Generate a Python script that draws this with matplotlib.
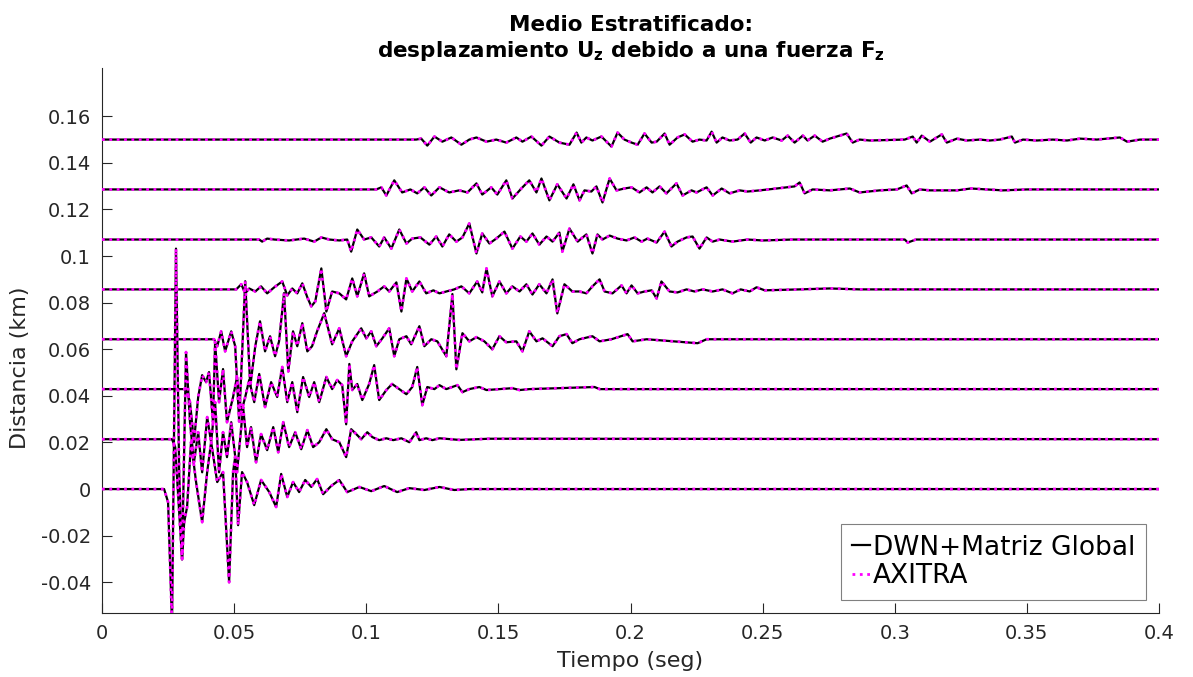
import matplotlib
matplotlib.use("Agg")
import matplotlib.pyplot as plt
import numpy as np

# Receiver distances (km): each trace is drawn around its own distance
distancia_km = [0.0, 0.0214, 0.0429, 0.0643, 0.0857, 0.1071, 0.1286, 0.15]

# Time samples (ms) and scaled vertical displacement (x1e-3 axis units)
t0_ms = [0, 23.5, 25.0, 26.5, 28.0, 29.2, 30.3, 31.1, 32.2, 33.7, 35.6, 37.9, 39.8, 41.3, 43.6,
         45.8, 48.1, 49.6, 50.4, 51.5, 53.0, 54.9, 57.6, 60.2, 63.3, 65.9, 67.8, 70.1, 72.3, 74.6,
         76.9, 79.2, 81.4, 83.7, 86.7, 89.8, 92.8, 97.4, 101.9, 106.8, 111.7, 116.3, 122.0, 127.7,
         133.3, 139.0, 400]
u0 = [0, 0, -5.6, -58.0, 103.2, 7.3, -30.1, -14.2, -7.7, 20.2, 3.0, -14.2, 7.3, 20.2, 3.0,
      7.3, -40.0, 7.3, 13.8, -15.5, 7.3, 3.0, -6.9, 3.9, -1.3, -7.7, 6.5, -3.4, 3.0, -1.3,
      3.9, 0.9, 4.3, -2.2, 1.3, 3.9, -1.3, 0.9, -0.9, 1.3, -1.3, 0.4, -0.4, 0.9,
      -0.4, 0, 0]

t1_ms = [0, 26.5, 27.7, 30.3, 31.8, 33.3, 34.8, 36.4, 37.9, 39.8, 41.3, 42.8, 44.3, 45.8, 47.3,
         48.9, 51.1, 53.4, 54.9, 56.4, 58.3, 60.2, 62.5, 64.8, 66.7, 68.6, 70.8, 73.1, 75.4, 77.7,
         79.9, 82.2, 84.9, 87.1, 89.8, 92.4, 94.3, 96.2, 98.1, 100.4, 102.3, 104.9, 107.6, 110.2,
         113.3, 116.3, 118.9, 120.1, 122.7, 125.0, 127.7, 135.2, 146.6, 400]
u1 = [0, 0, -3.4, -51.6, 37.4, 7.3, -9.9, 3.0, -14.2, 9.5, -1.3, 15.9, -14.2, 3.0, -7.7,
      7.3, -14.2, 13.8, -3.4, 5.2, -9.9, 2.2, -4.7, 5.2, -5.6, 7.3, -3.4, 3.0, -4.3, 3.9,
      -3.4, -1.3, 4.3, 0, -1.3, -7.7, 4.3, 2.2, 0, 3.0, 0.9, -0.4, 0.4, -0.4,
      0.4, -1.3, 3.0, -0.4, 0.4, -0.4, 0.4, -0.3, 0.2, 0]

t2_ms = [0, 31.8, 33.3, 34.8, 36.4, 37.9, 39.4, 40.5, 42.0, 42.8, 44.3, 45.8, 47.3, 49.6, 51.1,
         52.7, 54.2, 55.7, 57.6, 59.5, 61.7, 64.0, 66.3, 68.2, 70.1, 72.0, 73.9, 76.1, 78.4, 80.3,
         82.2, 84.9, 87.1, 89.0, 90.9, 92.4, 93.6, 94.7, 96.6, 98.5, 101.1, 103.0, 104.9, 107.6,
         109.8, 112.5, 115.2, 117.4, 119.3, 121.2, 123.1, 125.8, 127.7, 130.3, 134.5, 136.4, 139.0,
         142.8, 145.5, 150.4, 155.3, 158.0, 161.7, 186.4, 188.3, 400]
u2 = [0, 0, -5.6, -22.8, -3.4, 6.0, 3.0, 7.3, -14.2, 20.2, -5.6, 8.6, -14.2, -3.4, 5.2,
      -9.9, -3.4, 3.9, -5.6, 6.5, -7.7, 3.0, -3.4, 9.5, -5.6, 3.0, -9.9, 5.2, -3.4, 3.0,
      -5.6, 5.2, 0, 3.9, 1.7, -15.1, 10.8, -0.4, 2.2, -4.7, 2.2, 10.3, -4.7, -0.4,
      2.2, 0, -2.2, 0.9, 9.5, -6.9, 0.9, 0, 1.7, 0, 1.7, -1.3, 0,
      0.9, -0.4, 0, 0.4, -0.4, 0, 0.9, 0, 0]

t3_ms = [0, 42.4, 43.6, 45.1, 46.6, 48.9, 50.4, 51.9, 54.2, 56.1, 58.0, 59.8, 61.7, 63.6, 65.5,
         67.0, 68.9, 70.5, 72.3, 73.9, 75.8, 77.7, 79.5, 81.4, 84.1, 87.1, 89.8, 92.4, 94.7, 98.1,
         100.0, 101.9, 103.8, 106.1, 108.7, 110.6, 112.5, 115.2, 117.0, 120.1, 122.0, 124.6, 126.9,
         130.3, 132.6, 134.1, 136.4, 139.0, 141.7, 144.7, 147.7, 150.4, 153.0, 156.8, 159.1, 161.7,
         164.4, 166.7, 170.5, 173.1, 175.8, 178.0, 180.7, 185.6, 188.3, 192.8, 198.9, 200.8, 206.1,
         225.4, 228.8, 400]
u3 = [0, 0, -3.0, 3.4, -5.2, 3.4, -3.0, -35.3, 24.9, -20.2, -3.0, 7.7, -5.2, 1.3, -7.3,
      -0.9, 19.8, -13.8, 3.4, -3.0, 6.9, -5.2, -3.0, 3.4, 11.2, -2.2, 4.7, -7.3, -0.9, 4.7,
      0.4, 3.4, -3.0, 0.4, 4.7, -7.3, 0, 1.3, -2.2, 5.6, -3.0, 0, -0.9,
      -7.3, 19.4, -12.9, 2.6, -0.9, 0.9, -0.9, -4.3, 1.3, -1.3, -0.9, -5.2, 3.4,
      -0.9, 0.4, -3.0, 1.3, 2.2, -1.7, 0, 1.3, -0.9, 0, 2.2, -0.9, 0,
      -1.7, 0, 0]

t4_ms = [0, 50.8, 52.7, 54.2, 55.7, 58.0, 60.2, 62.5, 65.2, 68.2, 70.1, 72.0, 73.9, 75.8, 77.7,
         79.2, 80.7, 83.0, 84.9, 87.1, 89.8, 92.4, 94.7, 96.6, 99.2, 101.1, 104.2, 106.8, 108.7,
         111.4, 113.3, 115.2, 117.4, 120.1, 122.7, 125.4, 127.7, 130.3, 133.3, 136.0, 139.0, 142.0,
         143.9, 145.5, 147.7, 150.4, 153.0, 155.3, 158.0, 160.6, 162.9, 165.5, 168.2, 170.5, 172.3,
         175.0, 178.0, 180.7, 183.3, 185.6, 188.3, 190.2, 193.2, 196.6, 198.5, 200.4, 202.7, 205.3,
         208.0, 209.9, 211.7, 214.8, 217.8, 221.2, 224.2, 227.3, 231.1, 234.8, 238.6, 241.7, 245.1,
         247.7, 250.8, 264.0, 275.4, 286.7, 400]
u4 = [0, 0, 2.2, -1.7, 0.4, -0.9, 1.3, -1.7, 0.9, 3.4, -2.6, 0.4, -1.7, 2.6, -3.4,
      -7.3, -5.2, 9.0, -9.5, -0.9, -1.7, -4.3, 4.7, -3.0, 6.9, -3.0, -0.9, 1.3, -0.9,
      3.0, -9.5, 4.7, -0.9, 3.4, -1.7, -0.4, -1.7, -0.9, 0, 1.3, -1.7, 3.4,
      -1.3, 9.0, -3.0, 3.4, -1.7, 1.3, -0.9, 2.2, -2.2, 2.2, -1.7, 4.3, -10.3,
      2.2, -0.9, -0.9, -1.7, 1.3, 4.3, -0.9, -1.7, 1.7, -1.7, 1.7, -1.7, -0.9,
      -0.4, -3.9, 3.4, -0.9, -1.3, 0, -0.9, 0, -0.9, 0, -1.7, 0, -0.9,
      0.9, -0.4, 0, 0.4, 0, 0]

t5_ms = [0, 59.5, 60.6, 62.5, 65.2, 70.8, 76.5, 80.3, 83.0, 86.0, 89.8, 92.8, 94.3, 96.6, 99.2,
         101.9, 104.9, 106.8, 109.5, 112.5, 115.2, 117.4, 120.5, 123.9, 126.5, 128.8, 131.4, 134.1,
         136.4, 139.0, 141.7, 143.9, 146.6, 149.2, 152.3, 155.3, 158.3, 160.6, 162.9, 165.5, 168.2,
         170.5, 173.1, 174.2, 176.9, 180.0, 183.3, 185.6, 187.5, 189.4, 192.1, 195.1, 198.5, 201.5,
         204.2, 206.4, 209.9, 212.9, 215.5, 217.8, 221.2, 223.5, 226.1, 228.8, 231.1, 233.7, 238.6,
         244.3, 250.0, 261.4, 303.8, 304.9, 308.0, 400]
u5 = [0, 0, -0.9, 0.4, 0, -0.4, 0.4, -0.9, 0.9, 0, -0.4, 0, -5.2, 4.3, 0,
      0.9, -3.0, 0.9, -3.9, 4.3, -1.7, 0.4, 0.9, -2.2, 1.3, -3.0, 2.2, -0.9,
      0.9, 6.9, -6.0, 2.6, -1.7, 0.4, 3.4, -3.9, 1.3, -0.9, 2.6, -2.2, 1.3,
      -0.9, 3.0, -5.2, 4.7, -0.9, 2.2, -6.0, 2.2, 0, 1.7, 0.4, -0.4, 0.9,
      -0.9, 0.4, -1.3, 3.4, -3.0, -0.9, 0.9, 1.3, -3.9, 0.9, -0.9, 0, -0.9,
      0, -0.4, 0, 0, -1.3, 0, 0]

t6_ms = [0, 103.8, 105.7, 107.6, 110.6, 113.6, 116.7, 119.3, 122.0, 124.6, 127.7, 131.4, 135.2,
         138.3, 141.7, 143.9, 147.3, 149.6, 153.0, 155.3, 158.7, 161.7, 164.4, 166.3, 169.3, 172.3,
         175.8, 178.4, 180.7, 182.6, 185.2, 187.1, 189.4, 192.1, 194.7, 197.7, 200.4, 203.4, 206.1,
         208.3, 211.0, 213.6, 217.4, 219.7, 223.1, 225.0, 228.8, 231.1, 234.5, 237.5, 241.3, 244.3,
         248.9, 255.3, 262.1, 264.0, 265.9, 268.9, 275.4, 283.0, 286.7, 294.3, 300.8, 304.5, 306.4,
         309.5, 313.3, 323.5, 328.8, 340.9, 350.0, 400]
u6 = [0, 0, 0.9, -2.6, 3.9, -1.3, 0, -1.7, 0.9, -2.6, 0.9, -1.3, -0.4,
      -1.3, 2.6, -2.2, 0.9, -2.2, 3.9, -3.9, 0.4, 3.9, -1.3, 4.7, -4.7, 2.2,
      -3.9, 2.2, -4.7, -0.4, -0.9, 1.3, -5.6, 4.7, -0.4, 0.4, 0.9, -1.3, 0.9,
      -1.3, 1.3, -1.7, 2.6, -2.6, -0.4, -1.3, 0.9, -2.6, 0.4, -1.7, -0.4, -0.9,
      -0.4, 0.4, 1.3, 3.0, -1.7, 0, -0.4, 0.4, -1.3, -0.4, 0, 1.7, -1.7,
      0, -0.4, -0.4, 0.4, -0.4, 0, 0]

t7_ms = [0, 118.9, 120.8, 123.1, 125.8, 128.8, 132.2, 136.0, 139.0, 141.7, 145.5, 149.2, 153.0,
         156.8, 159.1, 162.5, 166.3, 169.3, 173.1, 176.9, 179.6, 181.4, 183.3, 185.6, 189.0, 192.8,
         195.1, 197.7, 200.4, 202.7, 205.3, 208.0, 209.9, 212.9, 214.8, 217.8, 220.5, 223.5, 226.1,
         228.8, 230.7, 232.6, 234.8, 237.5, 240.5, 243.2, 245.5, 247.7, 250.8, 253.8, 257.2, 259.5,
         262.1, 265.2, 267.0, 269.7, 272.7, 275.4, 281.8, 284.1, 286.7, 290.5, 303.8, 306.8, 308.3,
         310.2, 313.3, 317.8, 319.7, 323.5, 327.3, 332.2, 336.0, 339.8, 344.3, 345.5, 348.5, 353.8,
         359.8, 365.2, 370.1, 376.5, 385.2, 387.9, 392.8, 400]
u7 = [0, 0, 0.4, -2.6, 1.3, -0.9, 0.9, -2.2, 0, 0.9, -0.9, 0, -1.3,
      0.9, -0.9, 1.3, -2.6, 1.3, -1.3, -2.2, 3.0, -1.3, 0.9, -0.4, 1.3, -3.0,
      3.0, 0, -1.3, -2.2, 2.6, -1.3, -0.9, 2.6, -2.2, 0.9, 2.2, -0.9, 0,
      -0.4, 3.4, -1.3, 0.9, -0.4, 0, 2.6, -1.3, 0.9, -0.4, 0.9, -0.4, 1.7,
      -1.3, 1.7, -0.4, 1.7, -0.9, 0.4, 2.6, -1.3, 0, -0.4, 0, 1.3, -1.3,
      1.7, -0.9, 2.2, -1.3, 0.4, -0.4, 0, -0.4, 0, 1.3, -1.3, 0, -0.4,
      0, -0.4, 0.4, 0, 0.9, -0.9, 0, 0]

tiempos = [t0_ms, t1_ms, t2_ms, t3_ms, t4_ms, t5_ms, t6_ms, t7_ms]
desplaz = [u0, u1, u2, u3, u4, u5, u6, u7]

etiqueta_dwn = "DWN+Matriz Global"
etiqueta_axitra = "AXITRA"

x_ticks = [0, 0.05, 0.1, 0.15, 0.2, 0.25, 0.3, 0.35, 0.4]
x_ticklabels = ["0", "0.05", "0.1", "0.15", "0.2", "0.25", "0.3", "0.35", "0.4"]
y_ticks = [-0.04, -0.02, 0, 0.02, 0.04, 0.06, 0.08, 0.1, 0.12, 0.14, 0.16]
y_ticklabels = ["-0.04", "-0.02", "0", "0.02", "0.04", "0.06", "0.08", "0.1", "0.12", "0.14", "0.16"]

gris = (0.15, 0.15, 0.15)

fig = plt.figure(figsize=(11.93, 6.77), dpi=100)
ax = fig.add_axes([0.0855, 0.0945, 0.886, 0.805])

for i, (d, t, u) in enumerate(zip(distancia_km, tiempos, desplaz)):
    tt = np.asarray(t) / 1000.0
    yy = d + np.asarray(u) / 1000.0
    ax.plot(tt, yy, color="black", lw=1.6, solid_joinstyle="round",
            label=etiqueta_dwn if i == 0 else None, zorder=2)
    ax.plot(tt, yy, color=(1, 0, 1), lw=2.0, ls=":",
            label=etiqueta_axitra if i == 0 else None, zorder=3)

ax.set_xlim(0, 0.4)
ax.set_ylim(-0.0532, 0.1807)
ax.set_xticks(x_ticks)
ax.set_xticklabels(x_ticklabels)
ax.set_yticks(y_ticks)
ax.set_yticklabels(y_ticklabels)

for side in ("top", "right"):
    ax.spines[side].set_visible(False)
for side in ("left", "bottom"):
    ax.spines[side].set_color(gris)
    ax.spines[side].set_linewidth(0.8)

ax.tick_params(direction="in", length=7, width=0.8, colors=gris, labelsize=14, pad=8)

ax.set_xlabel("Tiempo (seg)", fontsize=16, color=gris, labelpad=6)
ax.set_ylabel("Distancia (km)", fontsize=16, color=gris)
ax.yaxis.set_label_coords(-0.068, 0.45)
ax.set_title("Medio Estratificado:\ndesplazamiento U$_\\mathbf{z}$ debido a una fuerza F$_\\mathbf{z}$",
             fontsize=15.5, fontweight="bold", pad=8)

leg = ax.legend(loc="lower right", fontsize=19, handlelength=0.7, handletextpad=0.1,
                labelspacing=0.1, borderpad=0.4, borderaxespad=0.5, fancybox=False,
                framealpha=1.0)
leg.get_frame().set_edgecolor((0.5, 0.5, 0.5))
leg.get_frame().set_linewidth(0.8)

fig.savefig("out.png", dpi=100)
